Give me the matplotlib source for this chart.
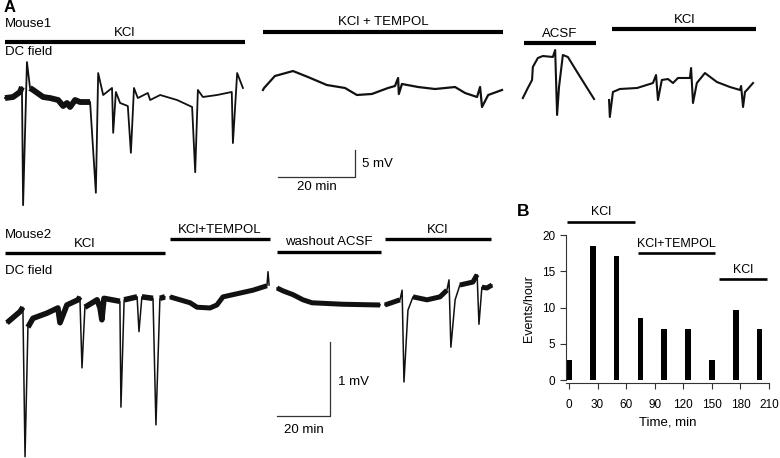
import matplotlib.pyplot as plt
import numpy as np

plt.rcParams['font.family'] = ['Liberation Sans', 'DejaVu Sans']

W, H = 780, 458

# ---- Mouse1 DC field (time in min, field in mV) ----
m1_kcl_t = [0, 2.1, 3.9, 4.4, 4.7, 5.7, 6.5, 7.3, 9.9, 11.7, 13.8, 15.1, 16.1, 16.9, 18.2, 19.5,
            22.1, 23.6, 24.2, 25.5, 27.8, 28.1, 28.8, 29.9, 31.9, 32.7, 33.5, 34.5, 37.1, 37.7,
            40.3, 44.7, 48.6, 49.4, 50.1, 51.4, 55.1, 58.9, 59.2, 60.3, 61.8]
m1_kcl_mv = [-0.56, -0.37, 0.56, 1.48, -20.4, 6.1, 1.3, 0.93, -0.37, -0.56, -0.93, -2.04, -1.48, -2.22, -0.93, -1.3,
             -1.3, -18.1, 4.07, 0, 1.3, -7.0, 0.56, -1.48, -2.04, -10.7, 1.3, -0.56, 0.37, -0.93,
             0, -0.93, -2.22, -14.3, 0.93, -0.37, 0, 0.56, -8.9, 4.07, 1.3]
m1_kcl_noisy = [(0, 4.4), (6.5, 22.1)]

m1_tempol_t = [67.0, 67.3, 70.1, 74.8, 78.7, 83.6, 88.3, 91.4, 95.3, 99.5, 101.3, 102.1, 102.3, 103.1,
               107.3, 111.7, 116.9, 119.5, 122.6, 123.4, 123.9, 125.5, 129.1]
m1_tempol_mv = [0.93, 1.3, 3.52, 4.44, 3.33, 1.85, 1.3, 0, 0.19, 1.3, 1.67, 3.15, 0.19, 2.04,
                1.48, 1.11, 1.48, 0.37, -0.37, 1.48, -2.22, 0, 0.93]
m1_tempol_noisy = []

m1_acsf_t = [134.5, 135.8, 136.9, 137.1, 138.4, 139.7, 142.3, 142.9, 143.4, 143.9, 144.9, 146.2, 148.6, 151.2, 153.0]
m1_acsf_mv = [-0.56, 1.3, 2.78, 5.19, 6.85, 7.22, 7.04, 8.33, -3.70, 1.48, 7.41, 7.04, 4.26, 1.3, -0.74]
m1_acsf_noisy = []

m1_kcl2_t = [156.9, 157.1, 157.9, 159.7, 164.2, 168.3, 169.1, 169.6, 170.6, 172.2, 173.5, 174.8, 177.9,
             178.2, 178.7, 179.7, 181.8, 184.9, 188.3, 190.9, 191.2, 191.7, 192.2, 192.7, 194.3]
m1_kcl2_mv = [-0.93, -4.07, 0.56, 1.11, 1.3, 2.22, 3.70, -0.93, 2.78, 2.96, 2.22, 3.15, 3.15,
              5.0, -1.48, 2.22, 4.07, 2.41, 1.48, 0.93, 1.67, -2.22, 0.56, 0.93, 2.22]
m1_kcl2_noisy = []

m1_cond_labels = ['KCl', 'KCl + TEMPOL', 'ACSF', 'KCl']
m1_cond_start = [0, 67, 134.8, 157.7]
m1_cond_end = [62.3, 129.4, 153.5, 195.1]
m1_cond_mv = [9.8, 11.7, 9.6, 12.2]

# ---- Mouse2 DC field ----
m2_kcl_t = [0, 4.9, 6.0, 6.8, 7.9, 9.8, 15.1, 19.2, 20.0, 22.6, 26.8, 27.5, 28.3, 29.4, 34.0, 35.1,
            35.8, 36.6, 42.6, 43.0, 44.2, 49.1, 49.8, 50.9, 55.1, 56.2, 57.7, 59.6]
m2_kcl_mv = [-0.24, -0.09, -0.03, -2.05, -0.30, -0.18, -0.11, -0.04, -0.24, 0, 0.07, 0.11, -0.85, -0.03, 0.07, -0.04,
             -0.20, 0.09, 0.05, -1.38, 0.07, 0.11, -0.36, 0.11, 0.09, -1.62, 0.09, 0.11]
m2_kcl_noisy = [(0, 6.0), (7.9, 27.5), (29.4, 42.6), (44.2, 49.1), (50.9, 55.1), (57.7, 59.6)]

m2_tempol_t = [61.5, 69.1, 71.7, 76.6, 79.2, 81.5, 85.3, 92.8, 98.1, 98.5, 98.9]
m2_tempol_mv = [0.11, 0.03, -0.03, -0.04, 0, 0.11, 0.14, 0.20, 0.26, 0.45, 0.27]
m2_tempol_noisy = [(61.5, 98.1)]

m2_wash_t = [101.9, 104.2, 107.9, 111.7, 115.1, 126.8, 140.8]
m2_wash_mv = [0.23, 0.19, 0.14, 0.07, 0.03, 0.01, 0]
m2_wash_noisy = [(101.9, 140.8)]

m2_kcl2_t = [142.6, 148.3, 149.1, 149.8, 151.3, 153.2, 158.5, 163.4, 166.0, 166.8, 167.5, 169.1,
             170.9, 175.8, 177.4, 178.1, 179.2, 181.1, 183.0]
m2_kcl2_mv = [0, 0.07, 0.20, -1.04, -0.07, 0.11, 0.07, 0.11, 0.20, 0.34, -0.57, 0.07,
              0.27, 0.31, 0.41, -0.26, 0.24, 0.23, 0.27]
m2_kcl2_noisy = [(142.6, 148.3), (153.2, 166.0), (170.9, 177.4), (179.2, 183.0)]

m2_cond_labels = ['KCl', 'KCl+TEMPOL', 'washout ACSF', 'KCl']
m2_cond_start = [-0.75, 61.5, 101.9, 142.6]
m2_cond_end = [59.6, 99.2, 141.1, 182.6]
m2_cond_mv = [0.70, 0.89, 0.72, 0.89]

# ---- Panel B ----
b_time = [0, 25, 50, 75, 100, 125, 150, 175, 200]
b_events = [2.8, 18.5, 17.1, 8.6, 7.1, 7.1, 2.8, 9.6, 7.1]
b_cond_labels = ['KCl', 'KCl+TEMPOL', 'KCl']
b_cond_start = [-2.1, 72.5, 157.6]
b_cond_end = [69.3, 153.4, 208]
b_cond_level = [21.8, 17.5, 13.9]

TRACE = '#111111'
GREY = '#333333'
FS = 9.5


def fpos(x, y):
    return x / W, 1 - y / H


def draw_trace(ax, t, mv, noisy, lw=1.3, lw_noisy=3.5):
    t = np.asarray(t)
    mv = np.asarray(mv)
    ax.plot(t, mv, color=TRACE, lw=lw, solid_joinstyle='round')
    if noisy:
        mask = np.zeros(len(t), bool)
        for a, b in noisy:
            mask |= (t >= a) & (t <= b)
        ax.plot(t, np.where(mask, mv, np.nan), color=TRACE, lw=lw_noisy,
                solid_capstyle='butt', solid_joinstyle='round')


def draw_conditions(ax, labels, starts, ends, levels, lw, fs):
    for lab, a, b, y in zip(labels, starts, ends, levels):
        ax.plot([a, b], [y, y], color='black', lw=lw, solid_capstyle='butt', clip_on=False)
        ax.annotate(lab, ((a + b) / 2, y), xytext=(0, 2.5), textcoords='offset points',
                    ha='center', va='bottom', fontsize=fs, annotation_clip=False)


fig = plt.figure(figsize=(W / 100, H / 100), dpi=100)

# Mouse1 row: 3.85 px/min, 5.4 px/mV, t=0 at x=5 px, 0 mV at y=95 px
ax1 = fig.add_axes([0, 1 - 210 / H, 1, 210 / H])
ax1.set_xlim(-5 / 3.85, (W - 5) / 3.85)
ax1.set_ylim(-115 / 5.4, 95 / 5.4)
ax1.axis('off')
draw_trace(ax1, m1_kcl_t, m1_kcl_mv, m1_kcl_noisy, lw_noisy=4.2)
draw_trace(ax1, m1_tempol_t, m1_tempol_mv, m1_tempol_noisy, lw=1.6)
draw_trace(ax1, m1_acsf_t, m1_acsf_mv, m1_acsf_noisy, lw=1.5)
draw_trace(ax1, m1_kcl2_t, m1_kcl2_mv, m1_kcl2_noisy, lw=1.5)
draw_conditions(ax1, m1_cond_labels, m1_cond_start, m1_cond_end, m1_cond_mv, 3.0, FS)
# scale bar 20 min / 5 mV
ax1.plot([70.9, 90.9, 90.9], [-15.2, -15.2, -10.2], color=GREY, lw=0.9)
ax1.text(92.7, -12.7, '5 mV', fontsize=FS, ha='left', va='center')
ax1.text(81.0, -17.1, '20 min', fontsize=FS, ha='center', va='center')

# Mouse2 row: 2.65 px/min, 74 px/mV, t=0 at x=7 px, 0 mV at y=305 px
ax2 = fig.add_axes([0, 0, 520 / W, 248 / H])
ax2.set_xlim(-7 / 2.65, (520 - 7) / 2.65)
ax2.set_ylim((305 - 458) / 74, (305 - 210) / 74)
ax2.axis('off')
draw_trace(ax2, m2_kcl_t, m2_kcl_mv, m2_kcl_noisy, lw=1.1, lw_noisy=4.0)
draw_trace(ax2, m2_tempol_t, m2_tempol_mv, m2_tempol_noisy, lw=1.1, lw_noisy=3.6)
draw_trace(ax2, m2_wash_t, m2_wash_mv, m2_wash_noisy, lw=1.1, lw_noisy=3.6)
draw_trace(ax2, m2_kcl2_t, m2_kcl2_mv, m2_kcl2_noisy, lw=1.1, lw_noisy=3.6)
draw_conditions(ax2, m2_cond_labels, m2_cond_start, m2_cond_end, m2_cond_mv, 2.4, FS)
# scale bar 20 min / 1 mV
ax2.plot([101.9, 121.9, 121.9], [-1.5, -1.5, -0.5], color=GREY, lw=0.9)
ax2.text(124.9, -1.04, '1 mV', fontsize=FS, ha='left', va='center')
ax2.text(112.0, -1.69, '20 min', fontsize=FS, ha='center', va='center')

# labels of panel A
fig.text(*fpos(4, 8), 'A', fontsize=12, fontweight='bold', ha='left', va='center')
fig.text(*fpos(5, 24), 'Mouse1', fontsize=FS, ha='left', va='center')
fig.text(*fpos(5, 52), 'DC field', fontsize=FS, ha='left', va='center')
fig.text(*fpos(5, 235), 'Mouse2', fontsize=FS, ha='left', va='center')
fig.text(*fpos(5, 271), 'DC field', fontsize=FS, ha='left', va='center')

# Panel B: event rate
axb = fig.add_axes([566 / W, (H - 383) / H, 203 / W, 148 / H])
axb.bar(b_time, b_events, width=6, color='black')
axb.set_xlim(-3.15, 210)
axb.set_ylim(-0.41, 20)
axb.set_xticks(range(0, 211, 30))
axb.set_yticks(range(0, 21, 5))
for s in ['top', 'right']:
    axb.spines[s].set_visible(False)
axb.spines['left'].set_bounds(0, 20)
for s in ['left', 'bottom']:
    axb.spines[s].set_linewidth(0.8)
    axb.spines[s].set_color(GREY)
axb.tick_params(axis='both', direction='out', length=4.5, width=0.8, color=GREY, labelsize=8.5)
axb.tick_params(axis='x', pad=7)
axb.tick_params(axis='y', pad=3)
axb.set_xlabel('Time, min', fontsize=FS, labelpad=4)
axb.set_ylabel('Events/hour', fontsize=9, labelpad=5)
draw_conditions(axb, b_cond_labels, b_cond_start, b_cond_end, b_cond_level, 1.9, 9)
fig.text(*fpos(517, 211), 'B', fontsize=12.5, fontweight='bold', ha='left', va='center')

fig.savefig('out.png', dpi=100)
